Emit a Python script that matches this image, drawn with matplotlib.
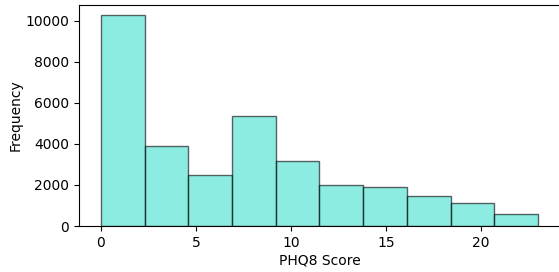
import matplotlib
matplotlib.use("Agg")
import matplotlib.pyplot as plt
import numpy as np

bin_edges = [0, 2.3, 4.6, 6.9, 9.2, 11.5, 13.8, 16.1, 18.4, 20.7, 23.0]
counts = [10260, 3890, 2490, 5370, 3160, 2020, 1890, 1480, 1140, 570]

fig = plt.figure(figsize=(5.59, 2.72), dpi=100)
ax = fig.add_axes([0.1413, 0.169, 0.8605, 0.813])
ax.hist(bin_edges[:-1], bins=bin_edges, weights=counts,
        color='turquoise', edgecolor='black', alpha=0.6)
ax.set_xlabel('PHQ8 Score', labelpad=3)
ax.set_ylabel('Frequency', labelpad=2)
ax.set_xticks([0, 5, 10, 15, 20])
ax.spines['right'].set_visible(False)
fig.savefig('out.png', dpi=100)
